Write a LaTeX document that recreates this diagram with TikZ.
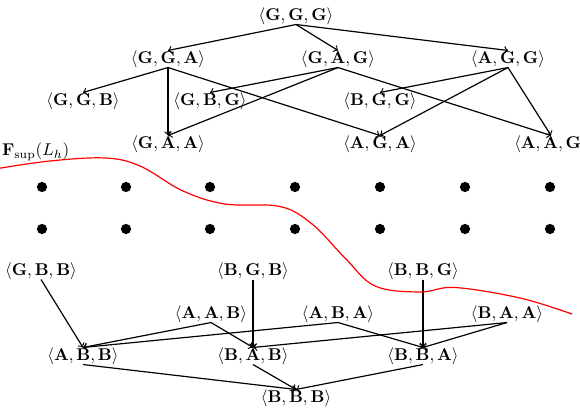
\documentclass[tikz,border=0pt]{standalone}
\usepackage{amsmath}
\newcommand{\trip}[3]{$\langle\mathbf{#1},\mathbf{#2},\mathbf{#3}\rangle$}
\begin{document}
\begin{tikzpicture}[x=0.5865pt,y=-0.5865pt,
  st/.style={inner sep=0pt,outer sep=0pt},
  ed/.style={->,line width=0.7pt,>=to},
  dotn/.style={circle,fill=black,inner sep=0pt,minimum size=6pt}]
\useasboundingbox (0,0) rectangle (580,413);
% top part
\node[st] (GGG) at (296,16) {\trip GGG};
\node[st] (GGA) at (168,59) {\trip GGA};
\node[st] (GAG) at (338,59) {\trip GAG};
\node[st] (AGG) at (508,59) {\trip AGG};
\node[st] (GGB) at (83,101) {\trip GGB};
\node[st] (GBG) at (210,101) {\trip GBG};
\node[st] (BGG) at (380,101) {\trip BGG};
\node[st] (GAA) at (168,144) {\trip GAA};
\node[st] (AGA) at (380,144) {\trip AGA};
\node[st] (AAG) at (551,144) {\trip AAG};
\node[st,anchor=west] (lab) at (2,152) {$\mathbf{F}_{\sup}(L_h)$};
% dots
\foreach \i/\x in {1/42,2/126,3/210,4/295,5/380,6/465,7/550}{
  \node[dotn] (da\i) at (\x,187) {};
  \node[dotn] (db\i) at (\x,229) {};
}
% bottom part
\node[st] (GBB) at (41,271) {\trip GBB};
\node[st] (BGB) at (253,271) {\trip BGB};
\node[st] (BBG) at (423,271) {\trip BBG};
\node[st] (AAB) at (211,314) {\trip AAB};
\node[st] (ABA) at (338,314) {\trip ABA};
\node[st] (BAA) at (507,314) {\trip BAA};
\node[st] (ABB) at (83,356) {\trip ABB};
\node[st] (BAB) at (253,356) {\trip BAB};
\node[st] (BBA) at (423,356) {\trip BBA};
\node[st] (BBB) at (296,398) {\trip BBB};
% edges
\foreach \s/\t in {GGG/GGA,GGG/GAG,GGG/AGG,GGA/GGB,GGA/GAA,GGA/AGA,
  GAG/GBG,GAG/GAA,GAG/AAG,AGG/BGG,AGG/AGA,AGG/AAG,
  GBB/ABB,BGB/BAB,BBG/BBA,AAB/ABB,AAB/BAB,ABA/ABB,ABA/BBA,
  BAA/BAB,BAA/BBA,ABB/BBB,BAB/BBB,BBA/BBB}
  \draw[ed] (\s.south) -- (\t.north);
% red curve
\draw[red,line width=0.7pt] plot[smooth,tension=0.6] coordinates {
  (-2,168.5) (50,161) (105,158) (140,166) (183,191) (225,204)
  (280,206.5) (312,224) (345,258) (375,286) (420,292) (455,287.5)
  (520,298) (572,314)};
\end{tikzpicture}
\end{document}
